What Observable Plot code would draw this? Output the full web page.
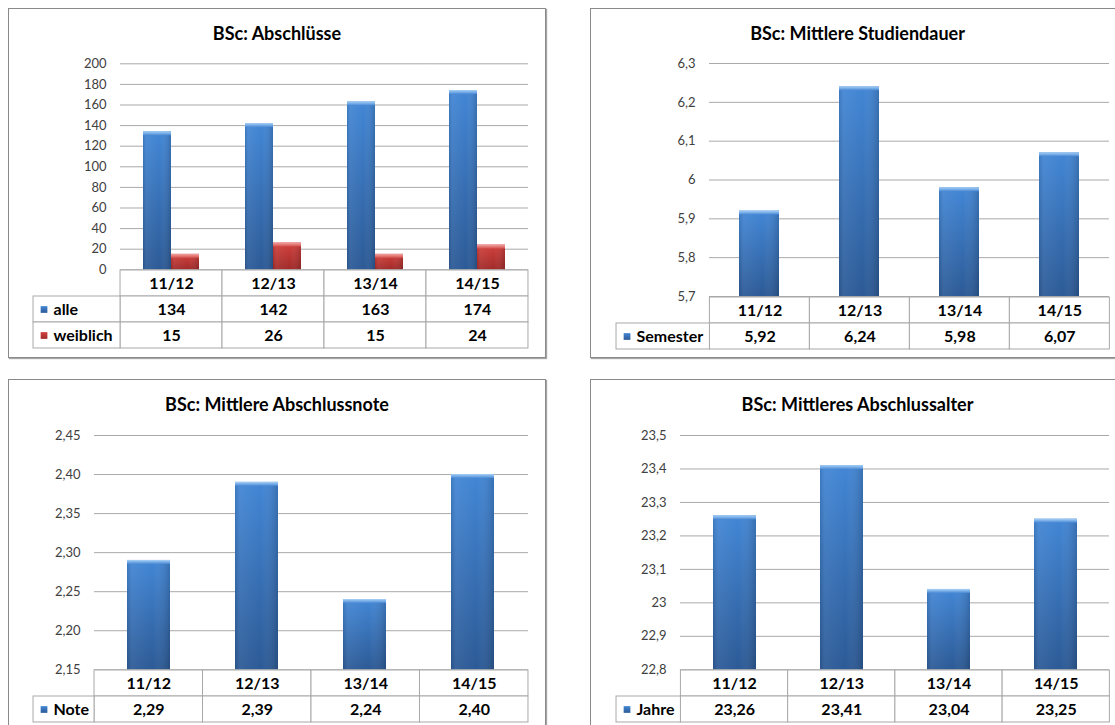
<!DOCTYPE html>
<html>
<head>
<meta charset="utf-8">
<script src="https://cdn.jsdelivr.net/npm/d3@7"></script>
<script src="https://cdn.jsdelivr.net/npm/@observablehq/plot@0.6"></script>
<style>
  body { margin: 0; background: #fff; font-family: Lato, "DejaVu Sans", sans-serif; }
  #page { position: relative; width: 1115px; height: 725px; overflow: hidden; background: #fff; }
  .rahmen { position: absolute; box-sizing: border-box; border: 1px solid #8a8a8a; box-shadow: 1px 1px 1px rgba(0,0,0,0.35); background: #fff; }
  .titel { position: absolute; transform: translateX(-50%); white-space: nowrap; font-weight: bold; font-size: 18px; line-height: 20px; color: #000; }
  .abs { position: absolute; }
</style>
</head>
<body>
<div id="page">
  <svg width="0" height="0" style="position:absolute">
    <defs>
      <linearGradient id="blau" x1="0" y1="0" x2="0" y2="1">
        <stop offset="0" stop-color="#4286d5"/>
        <stop offset="1" stop-color="#2c5a96"/>
      </linearGradient>
      <linearGradient id="blauKappe" x1="0" y1="0" x2="0" y2="1">
        <stop offset="0" stop-color="#a9d2f7"/>
        <stop offset="1" stop-color="#4a8ad6"/>
      </linearGradient>
      <linearGradient id="rot" x1="0" y1="0" x2="0" y2="1">
        <stop offset="0" stop-color="#d2403d"/>
        <stop offset="1" stop-color="#a02b29"/>
      </linearGradient>
      <linearGradient id="rotKappe" x1="0" y1="0" x2="0" y2="1">
        <stop offset="0" stop-color="#f2a3a1"/>
        <stop offset="1" stop-color="#d4504d"/>
      </linearGradient>
      <linearGradient id="glanz" x1="0" y1="0" x2="1" y2="0">
        <stop offset="0" stop-color="#000" stop-opacity="0.10"/>
        <stop offset="0.12" stop-color="#fff" stop-opacity="0.06"/>
        <stop offset="0.6" stop-color="#fff" stop-opacity="0"/>
        <stop offset="1" stop-color="#000" stop-opacity="0.16"/>
      </linearGradient>
    </defs>
  </svg>
</div>
<script>
// Studienjahre (Kategorien)
const jahre = ["11/12", "12/13", "13/14", "14/15"];
const kopf = "Studienjahr";

// Werte je Reihe
const abschluesseAlle = [134, 142, 163, 174];
const abschluesseWeiblich = [15, 26, 15, 24];
const studiendauer = [5.92, 6.24, 5.98, 6.07];
const abschlussnote = [2.29, 2.39, 2.24, 2.40];
const abschlussalter = [23.26, 23.41, 23.04, 23.25];

// Achsenteilungen
const ticksAbschluesse = [0, 20, 40, 60, 80, 100, 120, 140, 160, 180, 200];
const ticksStudiendauer = [5.7, 5.8, 5.9, 6, 6.1, 6.2, 6.3];
const ticksNote = [2.15, 2.20, 2.25, 2.30, 2.35, 2.40, 2.45];
const ticksAlter = [22.8, 22.9, 23, 23.1, 23.2, 23.3, 23.4, 23.5];

// Farben der Reihen (Verläufe aus den defs)
const farbe = { alle: "blau", weiblich: "rot", Semester: "blau", Note: "blau", Jahre: "blau" };

const komma = d => String(d).replace(".", ",");
const zweiStellen = d => d.toFixed(2).replace(".", ",");

const diagramme = [
  {
    titel: "BSc: Abschlüsse",
    rahmen: {left: 8, top: 8, width: 538, height: 350},
    flaeche: {left: 120, right: 528, top: 63.3, bottom: 269.3},
    tabelleLinks: 33,
    reihen: [{name: "alle", werte: abschluesseAlle}, {name: "weiblich", werte: abschluesseWeiblich}],
    ticks: ticksAbschluesse, tickFormat: d => String(d), wertFormat: d => String(d)
  },
  {
    titel: "BSc: Mittlere Studiendauer",
    rahmen: {left: 590, top: 8, width: 535, height: 350},
    flaeche: {left: 709, right: 1109, top: 63, bottom: 296},
    tabelleLinks: 615.6,
    reihen: [{name: "Semester", werte: studiendauer}],
    ticks: ticksStudiendauer, tickFormat: komma, wertFormat: zweiStellen
  },
  {
    titel: "BSc: Mittlere Abschlussnote",
    rahmen: {left: 8, top: 379, width: 538, height: 400},
    flaeche: {left: 94, right: 528, top: 435, bottom: 669.3},
    tabelleLinks: 33,
    reihen: [{name: "Note", werte: abschlussnote}],
    ticks: ticksNote, tickFormat: zweiStellen, wertFormat: zweiStellen
  },
  {
    titel: "BSc: Mittleres Abschlussalter",
    rahmen: {left: 590, top: 379, width: 535, height: 400},
    flaeche: {left: 680, right: 1109, top: 435, bottom: 669.3},
    tabelleLinks: 615.6,
    reihen: [{name: "Jahre", werte: abschlussalter}],
    ticks: ticksAlter, tickFormat: komma, wertFormat: zweiStellen
  }
];

const page = document.getElementById("page");
const zeilenHoehe = 26.8;
const linie = "#a9a9a9";

function platziere(el, left, top) {
  el.classList.add("abs");
  el.style.left = left + "px";
  el.style.top = top + "px";
  page.appendChild(el);
}

function balken(p) {
  const {left: fl, top: ft} = p.rahmen;
  const f = p.flaeche;
  const gruppiert = p.reihen.length > 1;
  const ymin = p.ticks[0], ymax = p.ticks[p.ticks.length - 1];
  const daten = p.reihen.flatMap(r => r.werte.map((v, i) => ({jahr: jahre[i], reihe: r.name, wert: v})));
  const pos = gruppiert ? {fx: "jahr", x: "reihe"} : {x: "jahr"};

  const marks = [
    Plot.ruleY(p.ticks, {stroke: linie}),
    Plot.axisY({ticks: p.ticks, tickFormat: p.tickFormat, tickSize: 0, tickPadding: 14, line: true, stroke: linie, label: null})
  ];
  for (const r of p.reihen) {
    const d = daten.filter(e => e.reihe === r.name);
    const c = farbe[r.name];
    marks.push(
      Plot.barY(d, {...pos, y1: ymin, y2: "wert", fill: `url(#${c})`}),
      Plot.barY(d, {...pos, y1: ymin, y2: "wert", fill: "url(#glanz)"}),
      Plot.barY(d, {...pos, y1: "wert", y2: "wert", insetBottom: -4, fill: `url(#${c}Kappe)`})
    );
  }

  const opts = {
    width: f.right - fl + 10,
    height: f.bottom - ft + 10,
    marginLeft: f.left - fl,
    marginRight: 10,
    marginTop: f.top - ft,
    marginBottom: 10,
    x: gruppiert
      ? {domain: p.reihen.map(r => r.name), paddingInner: 0, paddingOuter: 0.82, axis: null}
      : {domain: jahre, paddingInner: 0.6, paddingOuter: 0.3, axis: null},
    y: {domain: [ymin, ymax], axis: null},
    style: {background: "transparent", overflow: "visible", fontFamily: "Lato, sans-serif", fontSize: "13px", color: "#404040"},
    marks
  };
  if (gruppiert) opts.fx = {domain: jahre, padding: 0, axis: null, label: null};
  return Plot.plot(opts);
}

function tabelle(p) {
  const f = p.flaeche;
  const spalte = (f.right - f.left) / jahre.length;
  const k = (f.left - p.tabelleLinks) / spalte;
  const zeilen = [kopf, ...p.reihen.map(r => r.name)];
  const zellen = [
    ...jahre.map((j, i) => ({zeile: kopf, i, text: j})),
    ...p.reihen.flatMap(r => r.werte.map((v, i) => ({zeile: r.name, i, text: p.wertFormat(v)})))
  ];
  const marks = [
    Plot.barX(zellen, {x1: "i", x2: d => d.i + 1, y: "zeile", fill: "white", stroke: linie}),
    Plot.barX(p.reihen, {x1: -k, x2: 0, y: "name", fill: "white", stroke: linie}),
    Plot.text(zellen, {x: d => d.i + 0.5, y: "zeile", text: "text", fontWeight: "bold", fontSize: 16, fill: "#000"})
  ];
  for (const r of p.reihen) {
    marks.push(
      Plot.dot([r], {x: -k, y: "name", symbol: "square", r: 3.8, dx: 10.5, fill: `url(#${farbe[r.name]})`}),
      Plot.text([r], {x: -k, y: "name", text: "name", textAnchor: "start", dx: 20, fontWeight: "bold", fontSize: 16, fill: "#000"})
    );
  }
  return Plot.plot({
    width: f.right - p.tabelleLinks + 2,
    height: zeilen.length * zeilenHoehe + 2,
    margin: 1,
    x: {domain: [-k, jahre.length], axis: null},
    y: {domain: zeilen, padding: 0, axis: null},
    style: {background: "transparent", overflow: "visible", fontFamily: "Lato, sans-serif"},
    marks
  });
}

for (const p of diagramme) {
  const r = document.createElement("div");
  r.className = "rahmen";
  Object.assign(r.style, {left: p.rahmen.left + "px", top: p.rahmen.top + "px", width: p.rahmen.width + "px", height: p.rahmen.height + "px"});
  page.appendChild(r);

  const t = document.createElement("div");
  t.className = "titel";
  t.textContent = p.titel;
  t.style.left = (p.rahmen.left + p.rahmen.width / 2) + "px";
  t.style.top = (p.rahmen.top + 15) + "px";
  page.appendChild(t);

  platziere(balken(p), p.rahmen.left, p.rahmen.top);
  platziere(tabelle(p), p.tabelleLinks - 1, p.flaeche.bottom - 1);
}
</script>
</body>
</html>
